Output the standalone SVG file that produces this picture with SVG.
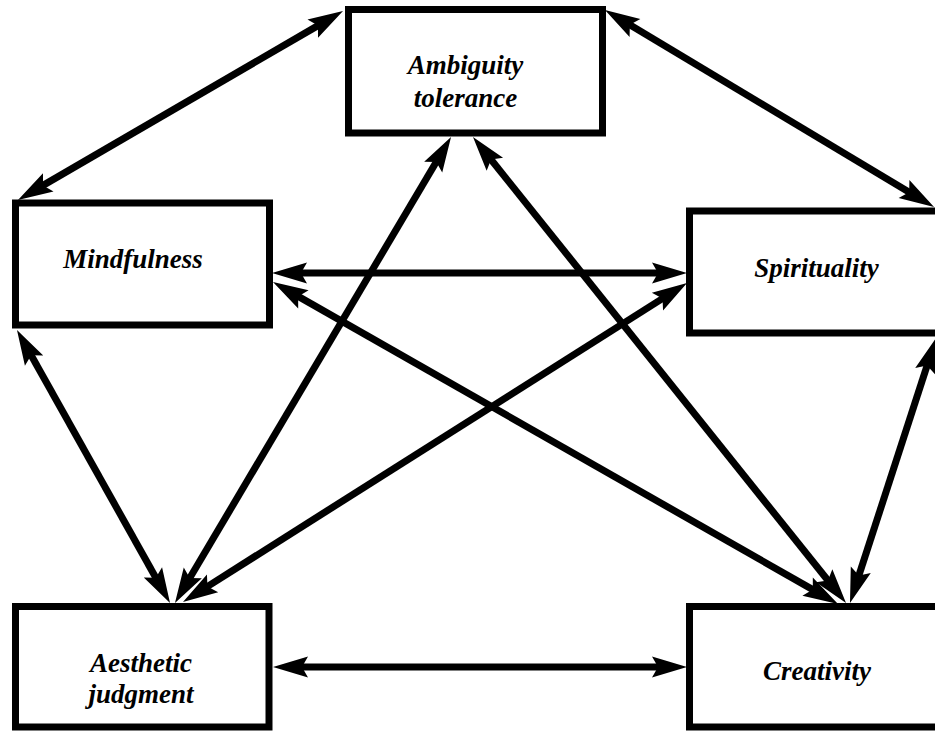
<svg xmlns="http://www.w3.org/2000/svg" width="935" height="731" viewBox="0 0 935 731">
  <defs>
    <style>
      .box { fill: #ffffff; stroke: #000000; stroke-width: 7; }
      .lbl { font-family: "Liberation Serif", "Times New Roman", serif; font-size: 27px; font-weight: bold; font-style: italic; fill: #000000; text-anchor: middle; }
      .link { stroke: #000000; stroke-width: 7; fill: none; marker-start: url(#head); marker-end: url(#head); }
    </style>
    <!-- barbed arrowhead; tip sits 25px beyond the line end -->
    <marker id="head" markerUnits="userSpaceOnUse" viewBox="-36 -11 37 22" markerWidth="37" markerHeight="22" refX="-25" refY="0" orient="auto-start-reverse" overflow="visible">
      <path d="M0,0 L-35,-10.5 L-29,0 L-35,10.5 Z" fill="#000000"/>
    </marker>
  </defs>
  <rect width="935" height="731" fill="#ffffff"/>

  <g id="connectors">
    <line class="link" x1="321.4" y1="23.6" x2="39.6" y2="187.4"/>
    <line class="link" x1="626.4" y1="22.8" x2="912.6" y2="194.2"/>
    <line class="link" x1="297" y1="273" x2="662" y2="273"/>
    <line class="link" x1="294.7" y1="294.4" x2="816.3" y2="591.6"/>
    <line class="link" x1="665.9" y1="296.4" x2="204.1" y2="588.6"/>
    <line class="link" x1="438.3" y1="158.5" x2="187.7" y2="581.5"/>
    <line class="link" x1="488.6" y1="156.5" x2="830.4" y2="583.5"/>
    <line class="link" x1="29.2" y1="351.8" x2="157.8" y2="581.2"/>
    <line class="link" x1="928.3" y1="361.8" x2="857.7" y2="579.2"/>
    <line class="link" x1="298" y1="667" x2="662" y2="667"/>
  </g>

  <g id="ambiguity">
    <rect class="box" x="348.5" y="9.5" width="254" height="123.5"/>
    <text class="lbl" x="465.5" y="74">Ambiguity</text>
    <text class="lbl" x="465.5" y="107">tolerance</text>
  </g>

  <g id="mindfulness">
    <rect class="box" x="15.5" y="203" width="254" height="122"/>
    <text class="lbl" x="133" y="268">Mindfulness</text>
  </g>

  <g id="spirituality">
    <rect class="box" x="689.5" y="211" width="254" height="122"/>
    <text class="lbl" x="816.5" y="277">Spirituality</text>
  </g>

  <g id="aesthetic">
    <rect class="box" x="15.5" y="606.5" width="253.5" height="120.5"/>
    <text class="lbl" x="141" y="672">Aesthetic</text>
    <text class="lbl" x="141" y="703">judgment</text>
  </g>

  <g id="creativity">
    <rect class="box" x="689.5" y="606.5" width="254" height="120.5"/>
    <text class="lbl" x="817" y="680">Creativity</text>
  </g>
</svg>
